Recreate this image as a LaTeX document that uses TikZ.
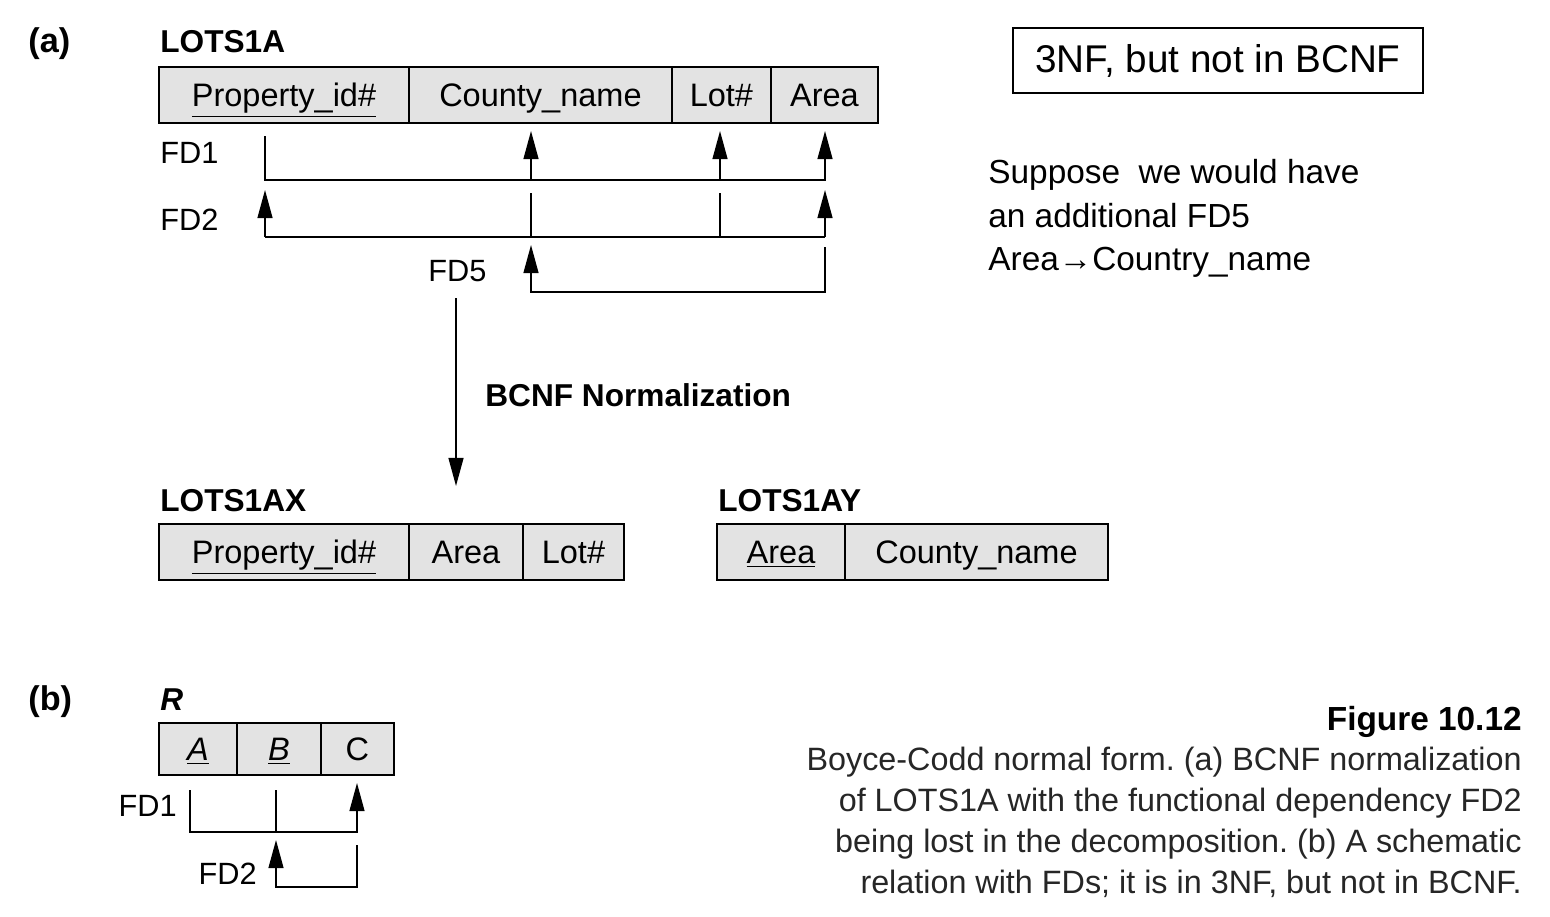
\documentclass[tikz,border=0pt]{standalone}
\usepackage{fontspec}
\setmainfont{Liberation Sans}
\usetikzlibrary{arrows.meta,positioning,calc}
\frenchspacing
\tikzset{
  cell/.style = {draw=black, fill=gray!22, line width=1pt, minimum height=1.12cm,
    inner sep=0pt, outer sep=0pt, text height=13.3pt, text depth=0pt,
    font=\fontsize{18.5}{22}\selectfont},% one attribute box
  tname/.style = {anchor=base west, inner sep=0pt,
    font=\fontsize{18}{22}\selectfont\bfseries},% relation name
  fdlbl/.style = {anchor=base west, inner sep=0pt, font=\fontsize{17.5}{21}\selectfont},
  fd/.style = {line width=0.9pt}% dependency line
}

\begin{document}
\begin{tikzpicture}[x=0.02cm, y=-0.02cm, >={Triangle[length=16pt,width=8.5pt]}]
\useasboundingbox (0,0) rectangle (1550,916);

% (a) LOTS1A
\node [tname, font=\fontsize{19.5}{22}\selectfont\bfseries] (parta) at (28,52) {(a)};
\node [tname] (lots) at (160,52) {LOTS1A};
\node [cell, minimum width=5cm] (pid) at (284,95) {\underline{Property\_id\#}};
\node [cell, minimum width=5.26cm, right=0pt of pid] (cname) {County\_name};
\node [cell, minimum width=1.98cm, right=0pt of cname] (lot) {Lot\#};
\node [cell, minimum width=2.14cm, right=0pt of lot] (area) {Area};

\coordinate (c1) at (265,123);
\coordinate (c2) at (531,123);
\coordinate (c3) at (720,123);
\coordinate (c4) at (825,123);
\coordinate (fd1) at (0,180);
\coordinate (fd2) at (0,237);
\coordinate (fd5) at (0,292);

\node [fdlbl] (fdone) at (160,163) {FD1};
\draw [fd,->] ($(c1 |- fd1)+(0,-44)$) |- (c4 |- fd1) -- ++(0,-49);
\foreach \c in {c2,c3} \draw [fd,->] (\c |- fd1) -- ++(0,-49);

\node [fdlbl] (fdtwo) at (160,230) {FD2};
\draw [fd] (c1 |- fd2) -- (c4 |- fd2);
\foreach \c in {c1,c4} \draw [fd,->] (\c |- fd2) -- ++(0,-47);
\foreach \c in {c2,c3} \draw [fd] (\c |- fd2) -- ++(0,-44);

\node [fdlbl] (fdfive) at (428,281) {FD5};
\draw [fd,->] ($(c4 |- fd5)+(0,-45)$) |- (c2 |- fd5) -- ++(0,-47);

% normalization step
\coordinate (normfrom) at (456,298);
\coordinate (normto) at (456,486);
\draw [fd,->] (normfrom) -- (normto);
\node [tname] (norm) at (485,406) {BCNF Normalization};

% LOTS1AX and LOTS1AY
\node [tname] (lotsx) at (160,511) {LOTS1AX};
\node [cell, minimum width=5cm] (xpid) at (284,552) {\underline{Property\_id\#}};
\node [cell, minimum width=2.28cm, right=0pt of xpid] (xarea) {Area};
\node [cell, minimum width=2.02cm, right=0pt of xarea] (xlot) {Lot\#};

\node [tname] (lotsy) at (718,511) {LOTS1AY};
\node [cell, minimum width=2.56cm] (yarea) at (781,552) {\underline{Area}};
\node [cell, minimum width=5.26cm, right=0pt of yarea] (ycname) {County\_name};

% remark
\node [draw, line width=1pt, minimum width=8.2cm, minimum height=1.3cm,
  font=\fontsize{22}{26}\selectfont] (nf) at (1218,60.5) {3NF, but not in BCNF};
\node [anchor=north west, inner sep=0pt, align=left,
  font=\fontsize{19}{24.8}\selectfont] (note) at (988,159)
  {Suppose~ we would have\\an additional FD5\\Area→Country\_name};

% (b) R
\node [tname, font=\fontsize{19.5}{22}\selectfont\bfseries] (partb) at (28,710) {(b)};
\node [tname, font=\fontsize{18}{22}\selectfont\bfseries\itshape] (rname) at (160,710) {R};
\node [cell, minimum height=1.04cm, minimum width=1.56cm] (ra) at (198,749) {\underline{\itshape A}};
\node [cell, minimum height=1.04cm, minimum width=1.68cm, right=0pt of ra] (rb) {\underline{\itshape B}};
\node [cell, minimum height=1.04cm, minimum width=1.46cm, right=0pt of rb] (rc) {C};

\coordinate (b1) at (190,775);
\coordinate (b2) at (276,775);
\coordinate (b3) at (357,775);
\coordinate (g1) at (0,832);
\coordinate (g2) at (0,887);

\node [fdlbl, anchor=base east] (bfdone) at (177,816) {FD1};
\draw [fd,->] ($(b1 |- g1)+(0,-42)$) |- (b3 |- g1) -- ++(0,-49);
\draw [fd] ($(b2 |- g1)+(0,-42)$) -- (b2 |- g1);
\node [fdlbl, anchor=base east] (bfdtwo) at (257,884) {FD2};
\draw [fd,->] ($(b3 |- g2)+(0,-42)$) |- (b2 |- g2) -- ++(0,-47);

% caption
\node [tname, anchor=base east, font=\fontsize{19}{23}\selectfont\bfseries] (fig) at (1522,730) {Figure 10.12};
\node [anchor=north east, inner sep=0pt, align=right, text=black!85,
  font=\fontsize{18.4}{23.3}\selectfont] (cap) at (1522,747)
  {Boyce-Codd normal form. (a) BCNF normalization\\of LOTS1A with the functional dependency FD2\\being lost in the decomposition. (b) A schematic\\relation with FDs; it is in 3NF, but not in BCNF.};
\end{tikzpicture}
\end{document}
